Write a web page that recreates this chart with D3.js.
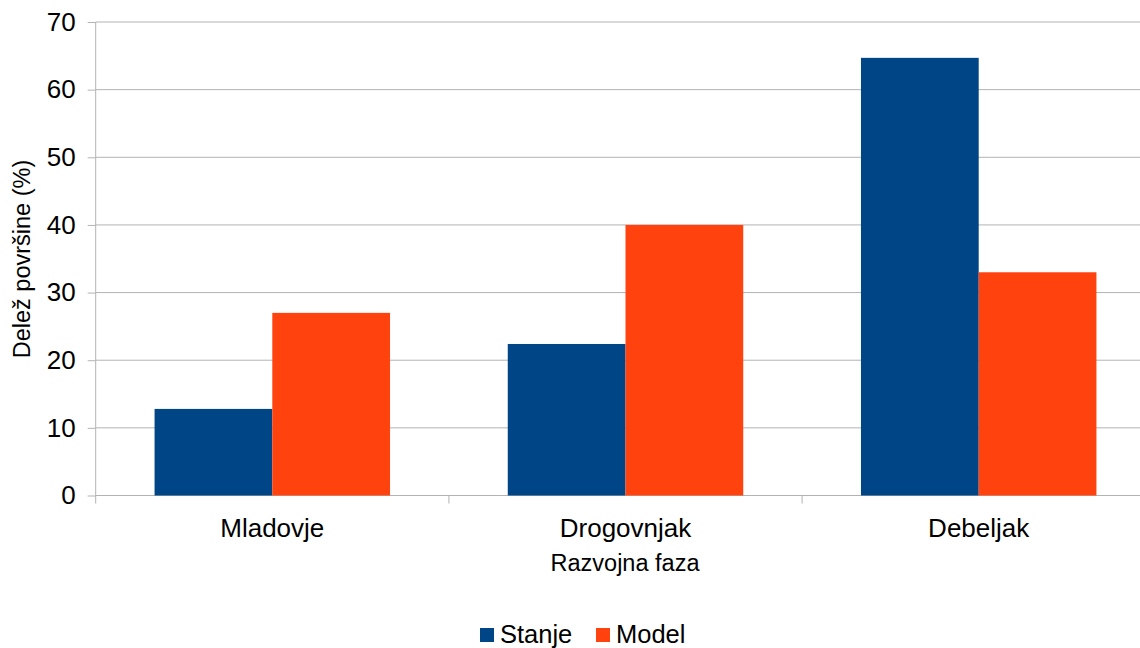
<!DOCTYPE html>
<html>
<head>
<meta charset="utf-8">
<script src="https://cdn.jsdelivr.net/npm/d3@7"></script>
<style>
  html, body { margin: 0; padding: 0; background: #fff; }
  svg { display: block; font-family: "Liberation Sans", Arial, sans-serif; }
</style>
</head>
<body>
<svg id="chart" width="1140" height="648"></svg>
<script>
// Development phases and share of area per phase
const categories = ["Mladovje", "Drogovnjak", "Debeljak"];
const seriesNames = ["Stanje", "Model"];
const stanje = [12.8, 22.4, 64.7];
const model = [27.0, 40.0, 33.0];
const yTicks = [0, 10, 20, 30, 40, 50, 60, 70];
const colors = ["#004586", "#ff420e"];

const rows = categories.map((c, i) => ({ cat: c, values: [stanje[i], model[i]] }));

const svg = d3.select("#chart");
const plotLeft = 95.7, plotTop = 22, plotBottom = 495.5;
const step = 353.2;

const x0 = d3.scaleBand().domain(categories)
  .range([plotLeft, plotLeft + step * categories.length]).padding(0);
const x1 = d3.scaleBand().domain(seriesNames)
  .range([step / 6, step * 5 / 6]).padding(0);
const y = d3.scaleLinear().domain([0, 70]).range([plotBottom, plotTop]);

const grid = "#b3b3b3";

// horizontal gridlines
svg.append("g").selectAll("line").data(yTicks).join("line")
  .attr("x1", plotLeft).attr("x2", 1140)
  .attr("y1", d => y(d)).attr("y2", d => y(d))
  .attr("stroke", grid).attr("stroke-width", 1);

// bars
svg.append("g").selectAll("g").data(rows).join("g")
  .attr("transform", d => `translate(${x0(d.cat)},0)`)
  .selectAll("rect").data(d => d.values.map((v, i) => ({ v, i })))
  .join("rect")
  .attr("x", d => x1(seriesNames[d.i]))
  .attr("width", x1.bandwidth())
  .attr("y", d => y(d.v))
  .attr("height", d => y(0) - y(d.v))
  .attr("fill", d => colors[d.i]);

// y axis
const yAxis = d3.axisLeft(y).tickValues(yTicks).tickSize(8).tickPadding(12);
const gy = svg.append("g").attr("transform", `translate(${plotLeft},0)`).call(yAxis);
gy.select(".domain").remove();
gy.selectAll(".tick line").attr("stroke", grid);
gy.selectAll(".tick text").attr("font-size", 26).attr("fill", "#000")
  .attr("font-family", "Liberation Sans, Arial, sans-serif");
svg.append("line").attr("x1", plotLeft).attr("x2", plotLeft)
  .attr("y1", plotTop).attr("y2", plotBottom + 8).attr("stroke", grid);

// x axis: separators between categories and category labels
const bounds = categories.slice(1).map(c => x0(c));
svg.append("g").selectAll("line").data(bounds).join("line")
  .attr("x1", d => d).attr("x2", d => d)
  .attr("y1", plotBottom).attr("y2", plotBottom + 8).attr("stroke", grid);
svg.append("g").selectAll("text").data(categories).join("text")
  .attr("x", d => x0(d) + x0.bandwidth() / 2)
  .attr("y", plotBottom + 41.5)
  .attr("text-anchor", "middle").attr("font-size", 26).attr("fill", "#000")
  .text(d => d);

// axis titles
svg.append("text").attr("x", 625).attr("y", 571)
  .attr("text-anchor", "middle").attr("font-size", 23.5).attr("fill", "#000")
  .text("Razvojna faza");
svg.append("text").attr("transform", `translate(30,259) rotate(-90)`)
  .attr("text-anchor", "middle").attr("font-size", 23.5).attr("fill", "#000")
  .text("Delež površine (%)");

// legend
const legend = svg.append("g");
const legendX = [480, 596];
seriesNames.forEach((s, i) => {
  legend.append("rect").attr("x", legendX[i]).attr("y", 628)
    .attr("width", 14).attr("height", 14).attr("fill", colors[i]);
  legend.append("text").attr("x", legendX[i] + 20).attr("y", 643)
    .attr("font-size", 25.5).attr("fill", "#000").text(s);
});
</script>
</body>
</html>
